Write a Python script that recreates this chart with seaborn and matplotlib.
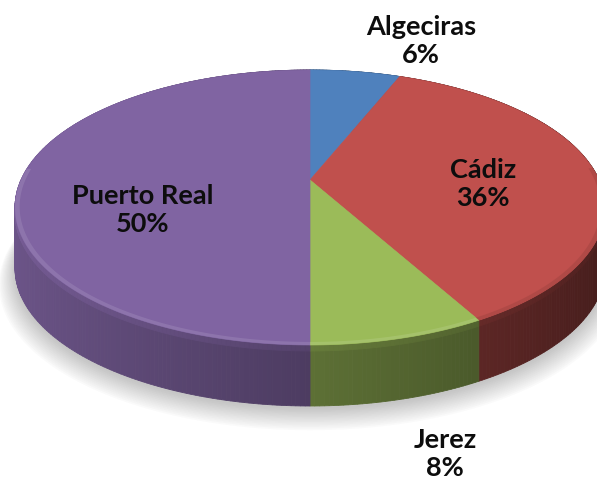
import numpy as np
import matplotlib
matplotlib.use("Agg")
import matplotlib.pyplot as plt
import seaborn as sns
from matplotlib.patches import Polygon
from matplotlib.colors import to_rgb

# ---- data ----
labels = ["Algeciras", "Cádiz", "Jerez", "Puerto Real"]
values = [6, 36, 8, 50]
colors = ["#4F81BD", "#C0504D", "#9BBB59", "#8064A2"]
label_pos = [(421, 41), (483, 184), (445, 454), (143, 210)]

sns.set_theme(style="white")
plt.rcParams['font.family'] = ['Lato', 'DejaVu Sans']

W, H = 597, 479
fig = plt.figure(figsize=(W / 100, H / 100), dpi=100)
ax = fig.add_axes([0, 0, 1, 1])
ax.set_xlim(0, W)
ax.set_ylim(H, 0)
ax.axis('off')

X0, Y0 = 310, 180
A, B, K = 289, 132, 0.2
DEPTH = 61


def proj(theta, r=1.0, drop=0.0):
    t = np.radians(theta)
    u = r * np.sin(t)
    v = r * np.cos(t)
    w = 1 + K * v
    return X0 + A * u / w, Y0 - B * v / w + drop


def shade(c, f):
    r, g, b = to_rgb(c)
    return (min(r * f, 1), min(g * f, 1), min(b * f, 1))


def lighten(c, f):
    r, g, b = to_rgb(c)
    return (r + (1 - r) * f, g + (1 - g) * f, b + (1 - b) * f)


# ---- shadow ----
full = np.linspace(0, 360, 361)
for i in range(14):
    sx, sy = proj(full, r=1.0 + 0.004 * i, drop=DEPTH + 3 + 0.8 * i)
    ax.add_patch(Polygon(np.column_stack([sx, sy]), closed=True,
                         facecolor=(0.3, 0.3, 0.3), alpha=0.022, lw=0, zorder=1))

# ---- slice angles ----
total = float(sum(values))
bounds = np.concatenate([[0], np.cumsum(values) / total * 360.0])

# ---- side walls ----
quads = []
for i, c in enumerate(colors):
    a0, a1 = bounds[i], bounds[i + 1]
    n = max(int((a1 - a0) / 0.75), 2)
    ts = np.linspace(a0, a1, n + 1)
    for t1, t2 in zip(ts[:-1], ts[1:]):
        tm = 0.5 * (t1 + t2)
        u = np.sin(np.radians(tm))
        v = np.cos(np.radians(tm))
        f = 0.6 - 0.25 * u
        quads.append((v, t1, t2, shade(c, f)))
quads.sort(key=lambda q: -q[0])
for v, t1, t2, col in quads:
    xa, ya = proj(np.array([t1, t2]))
    xb, yb = proj(np.array([t2, t1]), drop=DEPTH)
    ax.add_patch(Polygon(np.column_stack([np.r_[xa, xb], np.r_[ya, yb]]),
                         closed=True, facecolor=col, edgecolor=col, lw=0.6, zorder=2))
    # bevel highlight at upper part of side
    xc, yc = proj(np.array([t2, t1]), drop=6)
    hl = tuple(min(1, x * 1.1) for x in col)
    ax.add_patch(Polygon(np.column_stack([np.r_[xa, xc], np.r_[ya, yc]]),
                         closed=True, facecolor=hl, edgecolor=hl, lw=0.6, zorder=2.1))

# ---- top faces ----
for i, c in enumerate(colors):
    a0, a1 = bounds[i], bounds[i + 1]
    ts = np.linspace(a0, a1, 200)
    xs, ys = proj(ts)
    ax.add_patch(Polygon(np.column_stack([np.r_[X0, xs], np.r_[Y0, ys]]),
                         closed=True, facecolor=c, edgecolor=c, lw=0.5, zorder=3))
    # subtle rim highlight along the front edge
    ts2 = ts[np.cos(np.radians(ts)) < 0.1]
    if len(ts2) > 1:
        u2 = np.sin(np.radians(ts2))
        xr, yr = proj(ts2, r=1.0)
        xr2, yr2 = proj(ts2[::-1], r=0.985)
        hc = lighten(c, 0.2) if np.mean(u2) < 0.3 else shade(c, 0.85)
        ax.add_patch(Polygon(np.column_stack([np.r_[xr, xr2], np.r_[yr, yr2]]),
                             closed=True, facecolor=hc, edgecolor='none', alpha=0.55, zorder=3.1))

# ---- labels ----
for lab, val, (lx, ly) in zip(labels, values, label_pos):
    ax.text(lx, ly, f"{lab}\n{val / total:.0%}", ha='center', va='center',
            fontsize=19.5, fontweight='bold', color='#0d0d0d', linespacing=1.2, zorder=5)

fig.savefig("out.png", dpi=100)
